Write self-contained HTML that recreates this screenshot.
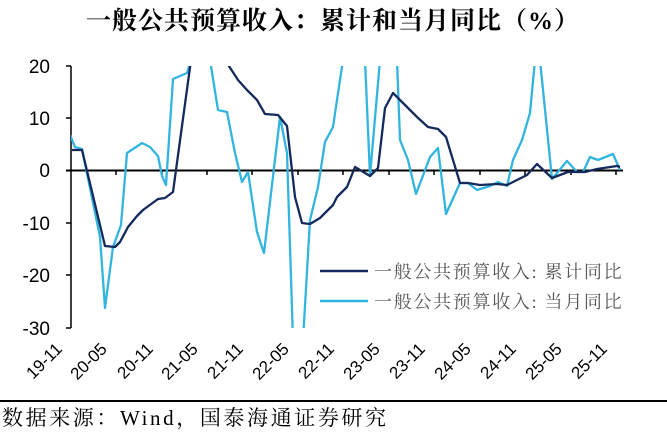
<!DOCTYPE html>
<html><head><meta charset="utf-8"><style>
html,body{margin:0;padding:0;background:#fff;}
svg{display:block;}
</style></head><body>
<svg width="667" height="433" xmlns="http://www.w3.org/2000/svg">
<defs><clipPath id="c"><rect x="71" y="66" width="580" height="262"/></clipPath></defs>
<text x="333" y="29" text-anchor="middle" font-family="Liberation Serif, Noto Serif CJK SC, serif" font-size="25" font-weight="bold" fill="#000" letter-spacing="1">一般公共预算收入：累计和当月同比（%）</text>
<g font-family="Liberation Sans, sans-serif" font-size="19" fill="#000" text-anchor="end">
<text x="50" y="73">20</text><text x="50" y="125">10</text><text x="50" y="177">0</text>
<text x="50" y="230">-10</text><text x="50" y="282">-20</text><text x="50" y="335">-30</text>
</g>
<g stroke="#000" stroke-width="1.5">
<line x1="71" y1="66" x2="71" y2="328"/>
<line x1="66" y1="66" x2="71" y2="66"/><line x1="66" y1="118" x2="71" y2="118"/>
<line x1="66" y1="223" x2="71" y2="223"/><line x1="66" y1="275" x2="71" y2="275"/><line x1="66" y1="328" x2="71" y2="328"/>
<line x1="66" y1="170.5" x2="623" y2="170.5" stroke-width="2"/>
<path d="M116,170v5M162,170v5M207,170v5M252,170v5M298,170v5M343,170v5M389,170v5M434,170v5M480,170v5M525,170v5M571,170v5M616,170v5"/>
</g>
<g clip-path="url(#c)" fill="none" stroke-width="2.3" stroke-linejoin="round">
<polyline stroke="#32b4e0" points="70,135 75,147 82,149 100,237 105,308 113,247 121,225 127,153 142,143 150,147 158,156 162,176 166,185 173,79 187,73 191,60 210,60 218,110 227,112 235,153 242,182 248,172 257,232 264,253 280,117 287,153 293,340 303,340 310,220 318,187 325,142 333,127 337,100 343,60 365,60 370,176 380,60 397,60 400,140 408,160 416,194 430,157 438,148 446,214 460,183 468,183 477,190 490,186 498,182 507,186 513,160 522,140 530,113 535,60 540,60 552,179 567,161 577,172 583,172 590,157 598,160 613,154 620,170"/>
<polyline stroke="#142a5c" points="72,150 82,150 105,246 115,247 120,242 128,227 137,216 143,210 158,199 165,198 173,192 191,60 225,60 238,80 247,90 257,100 265,114 278,115 287,126 295,197 302,223 310,224 320,218 333,205 337,197 347,187 355,167 370,176 378,168 385,108 393,93 407,107 417,117 428,127 438,129 446,137 460,183 468,183 480,185 497,184 507,185 513,182 527,175 537,164 552,178 568,172 585,172 597,169 617,166 620,167"/>
</g>
<line x1="320" y1="271" x2="368" y2="271" stroke="#142a5c" stroke-width="2.5"/>
<line x1="320" y1="301" x2="368" y2="301" stroke="#32b4e0" stroke-width="2.5"/>
<g font-family="Liberation Serif, Noto Serif CJK SC, serif" font-size="18" fill="#555" letter-spacing="1.7">
<text x="374" y="278">一般公共预算收入: 累计同比</text>
<text x="374" y="308">一般公共预算收入: 当月同比</text>
</g>
<g font-family="Liberation Sans, sans-serif" font-size="17" fill="#000" text-anchor="end">
<text transform="translate(63,350) rotate(-45)">19-11</text>
<text transform="translate(108,350) rotate(-45)">20-05</text>
<text transform="translate(154,350) rotate(-45)">20-11</text>
<text transform="translate(199,350) rotate(-45)">21-05</text>
<text transform="translate(244,350) rotate(-45)">21-11</text>
<text transform="translate(290,350) rotate(-45)">22-05</text>
<text transform="translate(335,350) rotate(-45)">22-11</text>
<text transform="translate(381,350) rotate(-45)">23-05</text>
<text transform="translate(426,350) rotate(-45)">23-11</text>
<text transform="translate(472,350) rotate(-45)">24-05</text>
<text transform="translate(517,350) rotate(-45)">24-11</text>
<text transform="translate(563,350) rotate(-45)">25-05</text>
<text transform="translate(608,350) rotate(-45)">25-11</text>
</g>
<line x1="0" y1="401" x2="667" y2="401" stroke="#000" stroke-width="2"/>
<text x="2" y="425" font-family="Liberation Serif, Noto Serif CJK SC, serif" font-size="21" fill="#000" letter-spacing="2.6">数据来源：Wind，国泰海通证券研究</text>
</svg>
</body></html>
